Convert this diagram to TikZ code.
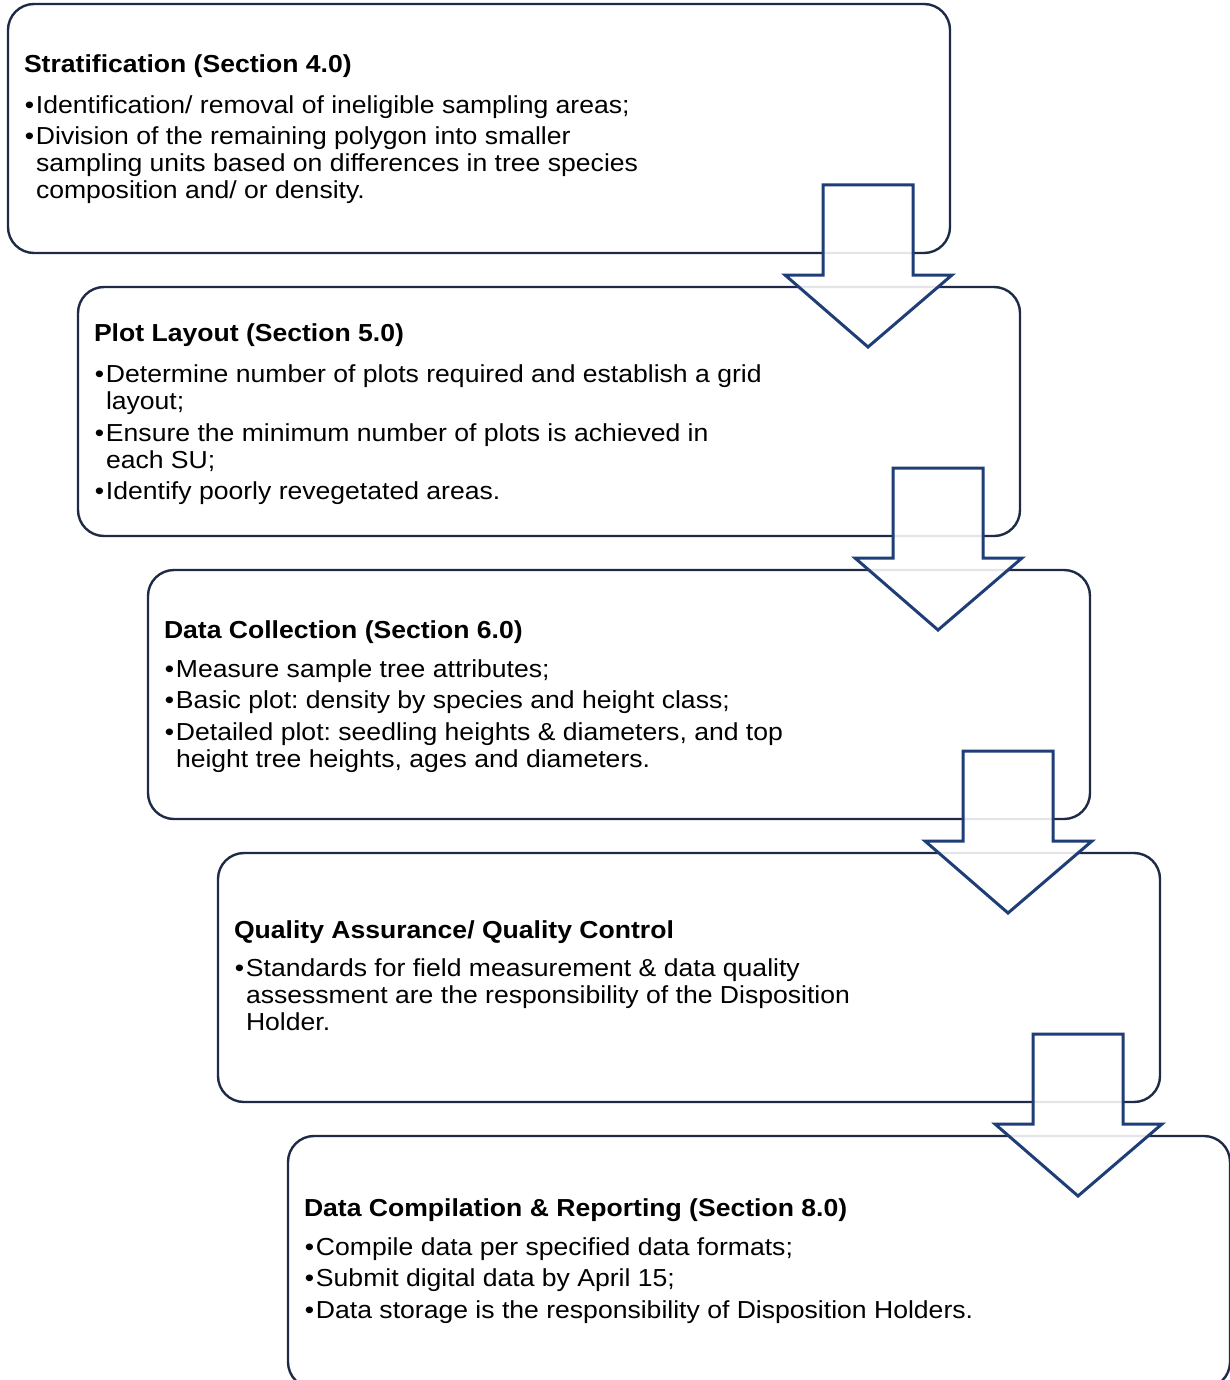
\documentclass[tikz,border=0pt]{standalone}
\usepackage{fontspec}
\setmainfont{Liberation Sans}[FakeStretch=1.08]
\definecolor{boxc}{RGB}{30,42,70}
\definecolor{arrc}{RGB}{31,62,120}
\newcommand{\bul}{\makebox[12pt][l]{\hspace{0.8pt}•}}
\newcommand{\hang}{\hspace*{12pt}}
\newcommand{\fst}{\rule{0pt}{22pt}}
\tikzset{
  panel/.style={draw=boxc, line width=2.4pt, rounded corners=26pt, fill=white,
    minimum width=942pt, minimum height=249pt, inner sep=0pt, outer sep=0pt, anchor=north west},
  txt/.style={anchor=north west, align=left, inner sep=0pt, outer sep=0pt,
    font=\fontsize{24.6}{27}\selectfont\frenchspacing},
  barrow/.style={draw=arrc, line width=3pt, fill=white, fill opacity=0.88, line join=miter}
}
\begin{document}
\begin{tikzpicture}[x=1pt,y=-1pt]
\useasboundingbox (0,0) rectangle (1230,1380);
\clip (0,0) rectangle (1230,1380);
% panels
\node[panel] (b1) at (8,4) {};
\node[panel] (b2) at (78,287) {};
\node[panel] (b3) at (148,570) {};
\node[panel] (b4) at (218,853) {};
\node[panel, minimum height=252pt] (b5) at (288,1136) {};
% texts
\node[txt] (t1) at (24,51) {\fst\textbf{Stratification (Section 4.0)}\\[14pt]
\bul Identification/ removal of ineligible sampling areas;\\[4pt]
\bul Division of the remaining polygon into smaller\\
\hang sampling units based on differences in tree species\\
\hang composition and/ or density.};
\node[txt] (t2) at (94,319) {\fst\textbf{Plot Layout (Section 5.0)}\\[14pt]
\bul Determine number of plots required and establish a grid\\
\hang layout;\\[5pt]
\bul Ensure the minimum number of plots is achieved in\\
\hang each SU;\\[4pt]
\bul Identify poorly revegetated areas.};
\node[txt] (t3) at (164,616) {\fst\textbf{Data Collection (Section 6.0)}\\[12pt]
\bul Measure sample tree attributes;\\[4.5pt]
\bul Basic plot: density by species and height class;\\[4.5pt]
\bul Detailed plot: seedling heights \& diameters, and top\\
\hang height tree heights, ages and diameters.};
\node[txt] (t4) at (234,916) {\fst\textbf{Quality Assurance/ Quality Control}\\[11pt]
\bul Standards for field measurement \& data quality\\
\hang assessment are the responsibility of the Disposition\\
\hang Holder.};
\node[txt] (t5) at (304,1194) {\fst\textbf{Data Compilation \& Reporting (Section 8.0)}\\[12pt]
\bul Compile data per specified data formats;\\[4.5pt]
\bul Submit digital data by April 15;\\[4.5pt]
\bul Data storage is the responsibility of Disposition Holders.};
% block arrows
\foreach \k in {0,1,2,3}{
  \draw[barrow, shift={(70*\k,283*\k)}]
    (823,185) -- (913,185) -- (913,275) -- (952,275) -- (868,347)
    -- (785,275) -- (823,275) -- cycle;
}
\end{tikzpicture}
\end{document}
